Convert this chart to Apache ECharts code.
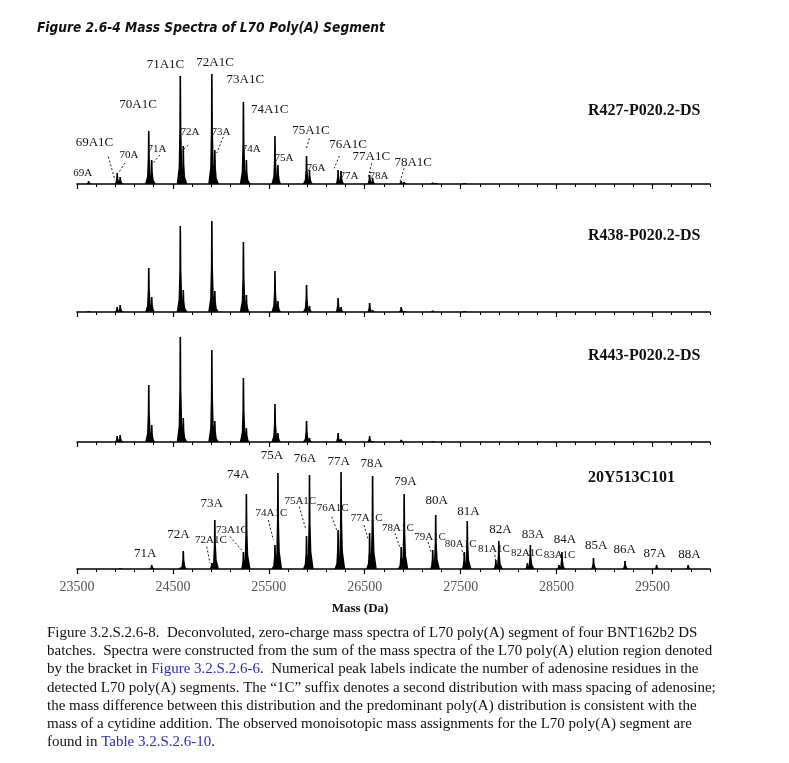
<!DOCTYPE html>
<html><head><meta charset="utf-8">
<script src="https://cdn.jsdelivr.net/npm/echarts@6/dist/echarts.min.js"></script>
<style>html,body{margin:0;padding:0;background:#fff}#c{width:789px;height:763px}</style>
</head><body><div id="c"></div>
<script>
// ================= DATA =================
// Peak masses (Da)
const residuesA   = [69,70,71,72,73,74,75,76,77,78,79,80,81,82,83,84,85,86,87,88];
const massA       = [23621,23950,24279,24608,24937,25266,25595,25924,26253,26582,26911,27240,27569,27898,28227,28556,28885,29214,29543,29872];
const residuesA1C = [69,70,71,72,73,74,75,76,77,78,79,80,81,82,83];
const massA1C     = [23919,24248,24577,24906,25235,25564,25893,26222,26551,26880,27209,27538,27867,28196,28525];

// Peak intensities (arbitrary units), aligned with massA / massA1C
const r427A = [3,7,24,38,34,24,19,14,13,6,2,1,null,null,null,null,null,null,null,null];
const r427C = [11,53,108,110,82,48,28,14,9,3,1.5,1,null,null,null];
const r438A = [1,7,15,22,21,17,11,6,5,2,1,null,null,null,null,null,null,null,null,null];
const r438C = [5,44,86,91,70,41,27,14,9,5,1.5,1,null,null,null];
const r443A = [null,7,17,24,21,14,9,4,3,1,null,null,null,null,null,null,null,null,null,null];
const r443C = [6,57,105,92,64,38,21,9,6,2.3,1,null,null,null,null];
const y20A  = [null,1,4,18,49,75,96,94,97,93,75,54,48,28,24,17,11,8,4,4];
const y20C  = [null,null,1.5,6,17,24,33,39,36,22,19,17,9,6,4];

const panelNames = ['R427-P020.2-DS','R438-P020.2-DS','R443-P020.2-DS','20Y513C101'];
const xTickLabels = [23500,24500,25500,26500,27500,28500,29500];

// Peak annotation texts
const labelsP1 = ['69A','69A1C','70A','70A1C','71A','71A1C','72A','72A1C','73A','73A1C','74A','74A1C','75A','75A1C','76A','76A1C','77A','77A1C','78A','78A1C'];
const labelsP4 = ['71A','72A','72A1C','73A','73A1C','74A','74A1C','75A','75A1C','76A','76A1C','77A','77A1C','78A','78A1C','79A','79A1C','80A','80A1C','81A','81A1C','82A','82A1C','83A','83A1C','84A','85A','86A','87A','88A'];

const titleText = 'Figure 2.6-4 Mass Spectra of L70 Poly(A) Segment';
const xName = 'Mass (Da)';
const captionLines = [
  'Figure 3.2.S.2.6-8.  Deconvoluted, zero-charge mass spectra of L70 poly(A) segment of four BNT162b2 DS',
  'batches.  Spectra were constructed from the sum of the mass spectra of the L70 poly(A) elution region denoted',
  'by the bracket in {lnk|Figure 3.2.S.2.6-6}.  Numerical peak labels indicate the number of adenosine residues in the',
  'detected L70 poly(A) segments. The \u201c1C\u201d suffix denotes a second distribution with mass spacing of adenosine;',
  'the mass difference between this distribution and the predominant poly(A) distribution is consistent with the',
  'mass of a cytidine addition. The observed monoisotopic mass assignments for the L70 poly(A) segment are',
  'found in {lnk|Table 3.2.S.2.6-10}.'
];

// ================= LAYOUT (pixel offsets from peak apex) =================
const LAYOUT_P1 = {
  '69A':{t:[-6,-8]}, '69A1C':{t:[-22.7,-30.3], l:[-8.9,-16.3,-2.2,7]},
  '70A':{t:[8.8,-22], l:[4.8,-14,-0.9,-5.3]}, '70A1C':{t:[-10.7,-26]},
  '71A':{t:[5.3,-11.3], l:[8.3,-5,1,3.3]}, '71A1C':{t:[-14.8,-11]},
  '72A':{t:[6.7,-14.3], l:[5,-1,0,4]}, '72A1C':{t:[3.2,-11.3]},
  '73A':{t:[6.2,-18.3], l:[8.5,-13,1.9,3]}, '73A1C':{t:[1.9,-22.7]},
  '74A':{t:[4.9,-11]}, '74A1C':{t:[-5.2,-26]},
  '75A':{t:[6.1,-7]}, '75A1C':{t:[4.5,-25], l:[2.8,-17.7,-0.5,-6]},
  '76A':{t:[6.5,-1.7]}, '76A1C':{t:[10,-25], l:[1.3,-14,-4,-1.7]},
  '77A':{t:[8,5]}, '77A1C':{t:[1.7,-18.3], l:[2.1,-11.7,-1.3,1.7]},
  '78A':{t:[6.4,-2]}, '78A1C':{t:[12,-18.3], l:[2.9,-12.7,-1.1,0.7]}
};
const LAYOUT_P4 = {
  '71A':{t:[-6.4,-11.7]}, '72A':{t:[-4.8,-16]}, '72A1C':{t:[-1,-23], l:[-5.1,-16.3,-1.8,0.3]},
  '73A':{t:[-3.1,-16.7]}, '73A1C':{t:[-11.4,-22], l:[-13.4,-15.3,-1.7,-2]},
  '74A':{t:[-8.1,-19]}, '74A1C':{t:[-3.6,-32.3], l:[-6.6,-25,-1.6,-5]},
  '75A':{t:[-5.9,-17]}, '75A1C':{t:[-6.2,-35.3], l:[-7.2,-29.3,-0.5,-6]},
  '76A':{t:[-4.5,-16.7]}, '76A1C':{t:[-5.3,-21.7], l:[-6.3,-13.3,-0.7,1.7]},
  '77A':{t:[-2.3,-10.3]}, '77A1C':{t:[-2.9,-14.7], l:[-5.6,-8,-1.3,7]},
  '78A':{t:[-0.9,-12]}, '78A1C':{t:[-3.3,-18.7], l:[-6.1,-13.7,-1.1,1.3]},
  '79A':{t:[1.2,-12.3]}, '79A1C':{t:[-2.7,-13], l:[-4.7,-8,-1.7,2]},
  '80A':{t:[1,-14]}, '80A1C':{t:[-3.7,-8], l:[-2.5,-2,0.1,4.7]},
  '81A':{t:[1.1,-9.3]}, '81A1C':{t:[-2,-10.7], l:[-1,-5,0,1]},
  '82A':{t:[1.7,-11.7]}, '82A1C':{t:[-0.6,-9.7]},
  '83A':{t:[2.5,-10]}, '83A1C':{t:[0.6,-10]},
  '84A':{t:[3.1,-12]}, '85A':{t:[2.8,-12]}, '86A':{t:[-0.3,-11.7]}, '87A':{t:[-1.8,-11.7]}, '88A':{t:[1.4,-10]}
};
const PANEL_TOPS = [64,192,322,449];
const PANEL_H = 120;
const GRID_LEFT = 77, GRID_W = 633;
const SERIF = '"Liberation Serif", "Times New Roman", serif';

// ================= BUILD =================
function pairs(masses, vals){
  const out = [];
  masses.forEach((m,i)=>{ if(vals[i]!=null) out.push([m, vals[i]]); });
  return out;
}
function peakOf(label, A, C){
  const n = parseInt(label,10);
  if (label.indexOf('1C')>0){ const i = residuesA1C.indexOf(n); return [massA1C[i], C[i]]; }
  const i = residuesA.indexOf(n); return [massA[i], A[i]];
}
function renderPeak(params, api){
  const m = api.value(0), h = api.value(1);
  const top = api.coord([m, h]), base = api.coord([m, 0]);
  const H = base[1]-top[1], x = top[0], y0 = base[1];
  const w = H > 20 ? 3.6 : 2.6;
  return {type:'polygon', shape:{points:[[x-w,y0],[x-1.7,y0-0.15*H],[x-1.0,y0-0.5*H],[x-0.8,top[1]],[x+0.8,top[1]],[x+1.1,y0-0.5*H],[x+1.9,y0-0.18*H],[x+w+0.6,y0]]},
          style:{fill:'#000'}};
}
function makeLabelRender(labels, layout, fsA, fsC){
  return function(params, api){
    const lab = labels[params.dataIndex];
    const L = layout[lab];
    const p = api.coord([api.value(0), api.value(1)]);
    const is1C = lab.indexOf('1C')>0;
    const children = [{type:'text', x:p[0]+L.t[0], y:p[1]+L.t[1],
      style:{text:lab, fontFamily:SERIF, fontSize:is1C?fsC:fsA, fill:'#151515', align:'center', verticalAlign:'middle'}}];
    if (L.l) children.push({type:'line', shape:{x1:p[0]+L.l[0], y1:p[1]+L.l[1], x2:p[0]+L.l[2], y2:p[1]+L.l[3]},
      style:{stroke:'#222', lineWidth:1, lineDash:[2,2]}});
    return {type:'group', children};
  };
}

const panelsA = [r427A, r438A, r443A, y20A];
const panelsC = [r427C, r438C, r443C, y20C];
const grids = [], xAxes = [], yAxes = [], series = [];
PANEL_TOPS.forEach((top, gi)=>{
  grids.push({left:GRID_LEFT, top:top, width:GRID_W, height:PANEL_H});
  const isBottom = gi === 3;
  xAxes.push({gridIndex:gi, type:'value', position:'bottom', min:23500, max:30100, interval:200,
    axisLine:{show:true, onZero:false, lineStyle:{color:'#000', width:1.5}},
    axisTick:{show:true, length:3, lineStyle:{color:'#000', width:1}},
    axisLabel:{show:isBottom, customValues:xTickLabels, formatter:v=>String(v), margin:11, color:'#555', fontFamily:SERIF, fontSize:14},
    splitLine:{show:false}});
  xAxes.push({gridIndex:gi, type:'value', position:'bottom', min:23500, max:30100,
    axisLine:{show:false},
    axisTick:{show:true, length:5, customValues:xTickLabels, lineStyle:{color:'#000', width:1.2}},
    axisLabel:{show:false}, splitLine:{show:false}});
  yAxes.push({gridIndex:gi, type:'value', min:0, max:PANEL_H, show:false});
  [panelsC[gi], panelsA[gi]].forEach((vals, k)=>{
    series.push({type:'custom', xAxisIndex:2*gi, yAxisIndex:gi, clip:false,
      data: pairs(k===0?massA1C:massA, vals), renderItem: renderPeak, silent:true});
  });
});
series.push({type:'custom', xAxisIndex:0, yAxisIndex:0, clip:false, silent:true,
  data: labelsP1.map(l=>peakOf(l, r427A, r427C)), renderItem: makeLabelRender(labelsP1, LAYOUT_P1, 11, 13)});
series.push({type:'custom', xAxisIndex:6, yAxisIndex:3, clip:false, silent:true,
  data: labelsP4.map(l=>peakOf(l, y20A, y20C)), renderItem: makeLabelRender(labelsP4, LAYOUT_P4, 13, 11)});

const nameY = [111, 236, 356, 478];
const graphics = [
  {type:'text', x:37, y:28, style:{text:titleText, font:'italic bold 13.6px "DejaVu Sans Condensed", "DejaVu Sans", sans-serif', fill:'#111', verticalAlign:'middle'}},
  {type:'text', x:360, y:609, style:{text:xName, font:'bold 13px '+SERIF, fill:'#111', align:'center', verticalAlign:'middle'}},
  {type:'text', x:47, y:624, style:{text:captionLines.join('\n'), font:'15px '+SERIF, fill:'#111', lineHeight:18.2,
     rich:{lnk:{fill:'#2a2ac0', fontSize:15, fontFamily:SERIF, lineHeight:18.2}}}}
];
panelNames.forEach((nm,i)=>graphics.push({type:'text', x:588, y:nameY[i],
  style:{text:nm, font:'bold 16px '+SERIF, fill:'#111', verticalAlign:'middle'}}));

const chart = echarts.init(document.getElementById('c'), null, {renderer:'canvas'});
chart.setOption({animation:false, backgroundColor:'#fff', grid:grids, xAxis:xAxes, yAxis:yAxes, series:series, graphic:graphics});
</script></body></html>
